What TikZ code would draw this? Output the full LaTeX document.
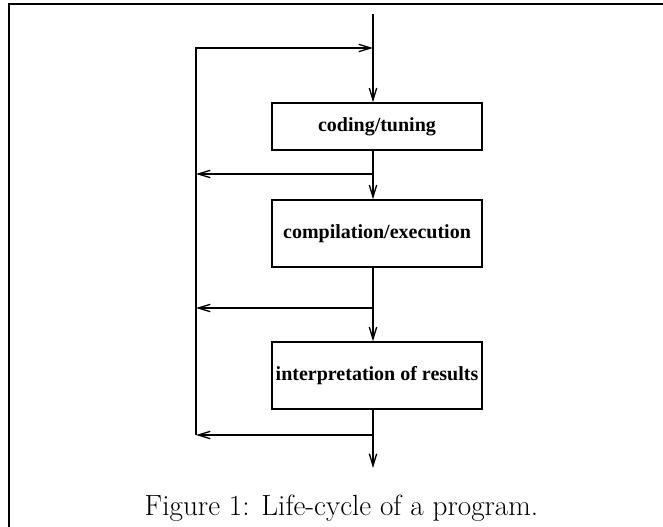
\documentclass[tikz,border=0pt]{standalone}
\usepackage{fontspec}
\newfontfamily\boxfont{Liberation Serif}
\usetikzlibrary{arrows.meta}
\begin{document}
\begin{tikzpicture}[x=0.75pt,y=-0.75pt,
  flow/.style={line width=1pt},
  arr/.style={flow,-{Straight Barb[length=9pt,width=5.5pt,line width=1pt]}},
  stage/.style={draw,line width=1pt,rectangle,minimum width=157.5pt,minimum height=50.25pt,
    inner sep=0pt,font=\boxfont\bfseries\fontsize{15pt}{18pt}\selectfont},
  frameline/.style={line width=1.5pt}]
\useasboundingbox (0,0) rectangle (663,527);

% page frame (left and top edges)
\coordinate (fbl) at (9,527);
\coordinate (ftl) at (9,4);
\coordinate (ftr) at (663,4);
\draw[frameline] (fbl) -- (ftl) -- (ftr);

% stages
\node[stage,minimum height=35.25pt] (code) at (377,126.5) {coding/tuning};
\node[stage] (comp) at (377,233.5) {compilation/execution};
\node[stage] (interp) at (377,375.5) {interpretation of results};

% main flow line and feedback points
\coordinate (top) at (373,14);
\coordinate (join) at (373,48);
\coordinate (ltop) at (196,48);
\coordinate (b1) at (373,174);
\coordinate (b2) at (373,308);
\coordinate (b3) at (373,435);
\coordinate (l1) at (196,174);
\coordinate (l2) at (196,308);
\coordinate (l3) at (196,435);
\coordinate (out) at (373,468);

\draw[arr] (top) -- (top |- code.north);
\draw[flow] (top |- code.south) -- (b1);
\draw[arr] (b1) -- (top |- comp.north);
\draw[flow] (top |- comp.south) -- (b2);
\draw[arr] (b2) -- (top |- interp.north);
\draw[flow] (top |- interp.south) -- (b3);
\draw[arr] (b3) -- (out);

% feedback loop
\draw[arr] (b1) -- (l1);
\draw[arr] (b2) -- (l2);
\draw[arr] (b3) -- (l3);
\draw[arr] (l3) -- (ltop) -- (join);

% caption
\node[anchor=base,inner sep=0pt,font=\fontsize{21.9pt}{26pt}\selectfont] (cap) at (341.5,515)
  {Figure 1: Life-cycle of a program.};
\end{tikzpicture}
\end{document}
